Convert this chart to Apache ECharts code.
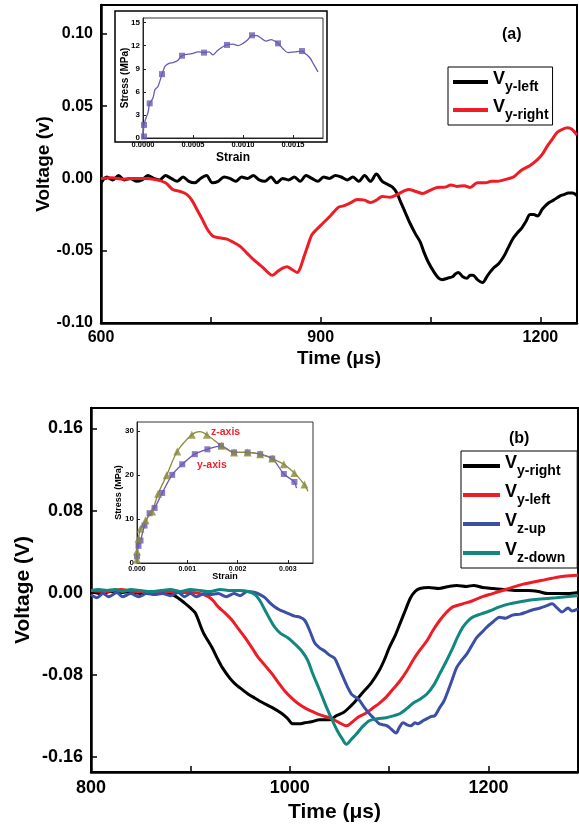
<!DOCTYPE html>
<html><head><meta charset="utf-8">
<script src="https://cdn.jsdelivr.net/npm/echarts@6/dist/echarts.min.js"></script>
<style>html,body{margin:0;padding:0;background:#fff}#c{width:579px;height:826px}</style>
</head><body><div id="c"></div>
<script>
// ---------- Panel (a) data: [time µs, voltage V] ----------
const aLeft = [[600,-0.003],[608,0.001],[616,-0.001],[624,0.002],[632,-0.001],[640,0.000],[648,-0.002],[656,-0.001],[664,0.002],[672,0.000],[680,-0.001],[688,0.002],[696,0.000],[704,-0.002],[712,0.001],[720,-0.002],[728,-0.003],[736,0.000],[744,0.002],[752,-0.003],[760,-0.002],[768,0.001],[776,0.000],[784,-0.002],[792,0.001],[800,0.000],[808,0.002],[816,-0.001],[824,-0.002],[832,0.001],[840,-0.003],[848,0.000],[856,-0.001],[864,0.001],[872,-0.002],[880,0.002],[888,0.000],[896,-0.002],[904,0.001],[912,0.000],[920,0.002],[928,0.001],[936,-0.001],[944,0.001],[952,-0.002],[960,0.002],[968,-0.002],[976,0.003],[984,-0.002],[991,-0.004],[998,-0.006],[1004,-0.010],[1009,-0.016],[1015,-0.023],[1022,-0.031],[1029,-0.038],[1036,-0.044],[1041,-0.051],[1047,-0.058],[1055,-0.065],[1061,-0.069],[1066,-0.070],[1073,-0.069],[1080,-0.068],[1084,-0.066],[1088,-0.065],[1094,-0.068],[1100,-0.069],[1104,-0.067],[1108,-0.067],[1114,-0.070],[1121,-0.072],[1128,-0.067],[1136,-0.062],[1143,-0.059],[1150,-0.054],[1156,-0.048],[1162,-0.042],[1168,-0.038],[1175,-0.034],[1180,-0.030],[1186,-0.025],[1191,-0.025],[1196,-0.026],[1203,-0.021],[1211,-0.017],[1218,-0.015],[1227,-0.012],[1233,-0.011],[1238,-0.010],[1244,-0.010],[1250,-0.012]];
const aRight = [[600,0],[615,0.0005],[630,-0.0005],[645,0],[660,0],[676,-0.001],[688,-0.003],[698,-0.0076],[708,-0.009],[717,-0.011],[724,-0.015],[731,-0.0215],[738,-0.028],[745,-0.035],[753,-0.040],[762,-0.041],[772,-0.042],[780,-0.044],[790,-0.047],[800,-0.052],[808,-0.056],[815,-0.059],[822,-0.062],[828,-0.065],[834,-0.067],[842,-0.064],[848,-0.062],[854,-0.061],[861,-0.063],[868,-0.065],[872,-0.062],[876,-0.056],[882,-0.047],[888,-0.039],[895,-0.035],[903,-0.031],[913,-0.026],[924,-0.020],[931,-0.019],[940,-0.017],[950,-0.0146],[960,-0.015],[968,-0.0167],[976,-0.015],[984,-0.0125],[995,-0.013],[1005,-0.011],[1020,-0.0076],[1030,-0.009],[1039,-0.0104],[1050,-0.008],[1059,-0.0063],[1070,-0.006],[1078,-0.0045],[1086,-0.0055],[1096,-0.005],[1104,-0.0063],[1114,-0.003],[1125,-0.003],[1133,-0.002],[1141,-0.002],[1150,-0.001],[1162,0.0007],[1168,0.003],[1175,0.006],[1186,0.009],[1196,0.013],[1203,0.017],[1209,0.022],[1216,0.027],[1223,0.032],[1230,0.034],[1237,0.035],[1243,0.034],[1250,0.030]];

// ---------- Panel (b) data ----------
const bRight = [[800,0.001],[810,-0.001],[820,0.001],[830,0],[840,0.001],[850,-0.001],[860,0.001],[870,0],[878,-0.001],[884,-0.003],[894,-0.010],[900,-0.015],[905,-0.020],[913,-0.039],[922,-0.054],[927,-0.064],[932,-0.073],[940,-0.084],[945,-0.089],[950,-0.093],[958,-0.099],[965,-0.103],[972,-0.107],[982,-0.112],[992,-0.118],[998,-0.123],[1003,-0.128],[1010,-0.128],[1015,-0.127],[1022,-0.126],[1030,-0.124],[1040,-0.124],[1047,-0.120],[1054,-0.117],[1060,-0.112],[1066,-0.106],[1073,-0.098],[1082,-0.088],[1090,-0.076],[1095,-0.066],[1100,-0.054],[1106,-0.042],[1111,-0.030],[1116,-0.018],[1121,-0.006],[1126,0.001],[1131,0.004],[1140,0.005],[1150,0.004],[1160,0.006],[1168,0.007],[1178,0.006],[1185,0.007],[1194,0.005],[1205,0.004],[1215,0.003],[1228,0.002],[1240,0.002],[1250,0.001],[1260,-0.001],[1271,-0.001],[1280,-0.001],[1290,0.000]];
const bLeft = [[800,0.002],[815,0.001],[830,0.003],[845,0.001],[860,0.001],[875,0.001],[890,0],[900,0],[910,-0.001],[918,-0.004],[923,-0.008],[928,-0.014],[935,-0.020],[942,-0.027],[948,-0.035],[955,-0.044],[962,-0.054],[968,-0.063],[975,-0.071],[982,-0.079],[988,-0.087],[995,-0.096],[1002,-0.103],[1008,-0.108],[1016,-0.113],[1025,-0.117],[1033,-0.120],[1042,-0.123],[1050,-0.127],[1057,-0.130],[1062,-0.127],[1068,-0.122],[1076,-0.118],[1083,-0.113],[1090,-0.108],[1097,-0.102],[1104,-0.094],[1111,-0.086],[1118,-0.076],[1124,-0.066],[1131,-0.056],[1138,-0.047],[1144,-0.037],[1151,-0.027],[1158,-0.019],[1164,-0.014],[1174,-0.011],[1184,-0.008],[1194,-0.004],[1204,-0.001],[1214,0.002],[1224,0.005],[1234,0.008],[1244,0.010],[1254,0.012],[1264,0.014],[1276,0.016],[1290,0.017]];
const bUp = [[800,-0.002],[806,-0.005],[812,-0.001],[818,-0.004],[826,0.000],[832,-0.004],[840,-0.001],[848,-0.004],[856,-0.001],[864,-0.002],[872,-0.001],[880,-0.003],[888,0.000],[894,-0.004],[900,-0.001],[906,-0.004],[914,-0.001],[920,-0.002],[928,-0.001],[936,-0.004],[944,-0.001],[950,-0.003],[957,0.001],[965,0.000],[970,-0.002],[975,-0.005],[980,-0.010],[985,-0.014],[990,-0.017],[995,-0.019],[1000,-0.021],[1005,-0.023],[1010,-0.024],[1015,-0.027],[1020,-0.037],[1025,-0.049],[1030,-0.054],[1035,-0.057],[1040,-0.061],[1045,-0.064],[1049,-0.072],[1053,-0.081],[1058,-0.092],[1062,-0.099],[1066,-0.102],[1070,-0.105],[1075,-0.112],[1080,-0.118],[1085,-0.123],[1090,-0.128],[1094,-0.129],[1098,-0.130],[1103,-0.134],[1107,-0.137],[1110,-0.132],[1114,-0.127],[1118,-0.129],[1122,-0.130],[1126,-0.127],[1129,-0.128],[1134,-0.125],[1138,-0.123],[1142,-0.121],[1146,-0.120],[1151,-0.112],[1155,-0.106],[1158,-0.099],[1163,-0.086],[1168,-0.073],[1173,-0.066],[1178,-0.060],[1183,-0.052],[1188,-0.044],[1193,-0.039],[1198,-0.034],[1204,-0.029],[1211,-0.024],[1217,-0.025],[1224,-0.022],[1232,-0.021],[1238,-0.019],[1244,-0.017],[1252,-0.015],[1258,-0.013],[1264,-0.011],[1269,-0.015],[1274,-0.019],[1280,-0.015],[1284,-0.018],[1290,-0.016]];
const bDown = [[800,0.002],[808,0.003],[816,0.002],[824,0.003],[832,0.001],[840,0.003],[850,0.002],[860,0.001],[870,0.002],[880,0.003],[890,0.001],[900,0.003],[910,0.002],[920,0.001],[930,0.003],[940,0.002],[950,0.002],[958,0.001],[965,-0.002],[970,-0.008],[975,-0.017],[980,-0.026],[985,-0.034],[991,-0.040],[998,-0.044],[1005,-0.050],[1012,-0.057],[1018,-0.066],[1023,-0.079],[1030,-0.095],[1037,-0.112],[1043,-0.125],[1048,-0.135],[1053,-0.143],[1057,-0.148],[1062,-0.143],[1067,-0.138],[1073,-0.131],[1080,-0.125],[1088,-0.123],[1097,-0.122],[1105,-0.120],[1111,-0.118],[1118,-0.113],[1124,-0.108],[1131,-0.104],[1138,-0.099],[1145,-0.090],[1151,-0.079],[1158,-0.066],[1164,-0.054],[1169,-0.043],[1174,-0.034],[1179,-0.028],[1184,-0.024],[1192,-0.021],[1201,-0.018],[1211,-0.014],[1221,-0.011],[1232,-0.009],[1244,-0.007],[1256,-0.006],[1268,-0.005],[1278,-0.004],[1290,-0.003]];

// ---------- Inset (a): strain, stress MPa ----------
const insetALine = [[0,0],[0.00001,1.7],[0.00003,2.6],[0.00005,3.3],[0.000067,4.5],[0.0001,5.2],[0.00012,6.3],[0.00015,6.7],[0.00019,8.3],[0.00022,9.3],[0.00026,9.7],[0.0003,9.8],[0.00034,10.0],[0.00039,10.7],[0.00045,10.9],[0.0005,11.0],[0.00055,11.2],[0.00061,11.1],[0.00066,11.2],[0.0007,10.8],[0.00074,11.3],[0.00079,11.8],[0.00084,12.1],[0.0009,12.2],[0.00095,12.0],[0.001,12.3],[0.00105,12.8],[0.00109,13.35],[0.00114,13.3],[0.00118,13.0],[0.00123,12.6],[0.00128,12.8],[0.00135,12.3],[0.0014,11.6],[0.00145,11.1],[0.00152,11.2],[0.00159,11.3],[0.00163,10.9],[0.00167,10.4],[0.00171,9.5],[0.00175,8.6]];
const insetAMarks = [[0.00001,0.2],[0.00001,1.7],[0.000067,4.5],[0.00019,8.3],[0.00039,10.7],[0.00061,11.1],[0.00084,12.1],[0.00109,13.35],[0.00135,12.3],[0.00159,11.3]];

// ---------- Inset (b) ----------
const insetBYMarks = [[0,1.5],[0.00003,3.9],[0.00007,5.1],[0.00015,8.5],[0.00025,11.3],[0.00035,12.5],[0.0005,15.9],[0.0007,20.0],[0.0009,22.4],[0.00115,24.7],[0.0014,25.8],[0.00167,26.6],[0.00193,25.1],[0.0022,25.1],[0.00245,24.7],[0.00269,23.7],[0.00292,20.2],[0.00313,18.4]];
const insetBYLine = [[0,0]].concat(insetBYMarks).concat([[0.00317,17.0]]);
const insetBZMarks = [[0,0.75],[0,2.6],[0.00003,5.5],[0.00007,7.8],[0.00017,9.7],[0.0003,11.7],[0.00042,15.7],[0.00059,19.9],[0.0008,25.3],[0.00109,29.1],[0.00139,29.1],[0.00168,26.6],[0.00193,25.1],[0.0022,25.1],[0.00245,24.7],[0.00269,23.7],[0.00292,22.4],[0.00313,20.4],[0.00333,17.8]];
const insetBZLine = [[0,0]].concat(insetBZMarks.slice(0,10)).concat([[0.00125,29.8]]).concat(insetBZMarks.slice(10)).concat([[0.0034,16.3]]);

const yTicksA = [-0.10,-0.05,0,0.05,0.10];
const yTicksB = [-0.16,-0.08,0,0.08,0.16];
const xTicksA = [600,900,1200];
const xTicksB = [800,1000,1200];

const FONT = 'Liberation Sans, Arial, sans-serif';
const subMap = {'a:y-left':'y-left','a:y-right':'y-right','b:y-right':'y-right','b:y-left':'y-left','b:z-up':'z-up','b:z-down':'z-down'};

const chart = echarts.init(document.getElementById('c'), null, {renderer:'canvas'});

function mainX(gridIndex, min, max, ticks, minor, fs, nameGap){
  return {gridIndex, type:'value', min, max,
    name:'Time (\u03bcs)', nameLocation:'middle', nameGap, nameMoveOverlap:false,
    nameTextStyle:{fontFamily:FONT, fontWeight:'bold', fontSize:fs+3, color:'#000'},
    axisLine:{show:true, onZero:false, lineStyle:{color:'#000', width:2.5}},
    axisTick:{show:true, inside:true, length:6, customValues:ticks.concat(minor), lineStyle:{color:'#000', width:1.5}},
    axisLabel:{customValues:ticks, margin:7, fontFamily:FONT, fontWeight:'bold', fontSize:fs, color:'#000',
      formatter:v=>String(v)},
    splitLine:{show:false}};
}
function mainY(gridIndex, min, max, ticks, fs, nameGap, nm){
  return {gridIndex, type:'value', min, max,
    name:nm, nameLocation:'middle', nameRotate:90, nameGap, nameMoveOverlap:false,
    nameTextStyle:{fontFamily:FONT, fontWeight:'bold', fontSize:fs+3, color:'#000'},
    axisLine:{show:true, onZero:false, lineStyle:{color:'#000', width:2.5}},
    axisTick:{show:true, inside:true, length:6, customValues:ticks, lineStyle:{color:'#000', width:1.5}},
    axisLabel:{customValues:ticks, margin:8, fontFamily:FONT, fontWeight:'bold', fontSize:fs, color:'#000',
      formatter:v=>v.toFixed(2)},
    splitLine:{show:false}};
}
function insetX(gridIndex, max, ticks, dec, fs, nfs, gap){
  return {gridIndex, type:'value', min:0, max,
    name:'Strain', nameLocation:'middle', nameGap:gap, nameMoveOverlap:false,
    nameTextStyle:{fontFamily:FONT, fontWeight:'bold', fontSize:nfs, color:'#000'},
    axisLine:{show:true, onZero:false, lineStyle:{color:'#222', width:1}},
    axisTick:{show:true, inside:true, length:3, customValues:ticks, lineStyle:{color:'#222'}},
    axisLabel:{customValues:ticks, margin:3, fontFamily:FONT, fontWeight:'bold', fontSize:fs, color:'#000',
      formatter:v=>v.toFixed(dec)},
    splitLine:{show:false}};
}
function insetY(gridIndex, max, ticks, fs, nfs, gap){
  return {gridIndex, type:'value', min:0, max,
    name:'Stress (MPa)', nameLocation:'middle', nameRotate:90, nameGap:gap, nameMoveOverlap:false,
    nameTextStyle:{fontFamily:FONT, fontWeight:'bold', fontSize:nfs, color:'#000'},
    axisLine:{show:true, onZero:false, lineStyle:{color:'#222', width:1}},
    axisTick:{show:true, inside:true, length:3, customValues:ticks, lineStyle:{color:'#222'}},
    axisLabel:{customValues:ticks, margin:3, fontFamily:FONT, fontWeight:'bold', fontSize:fs, color:'#000'},
    splitLine:{show:false}};
}
function mainLine(name, data, color, xi, yi){
  return {name, type:'line', xAxisIndex:xi, yAxisIndex:yi, data, showSymbol:false, symbol:'none',
    smooth:0.3, lineStyle:{color, width:3}, itemStyle:{color}, z:3, silent:true, animation:false};
}
const legendRich = {
  v:{fontFamily:FONT, fontWeight:'bold', fontSize:18, color:'#000', lineHeight:24, verticalAlign:'top'},
  s:{fontFamily:FONT, fontWeight:'bold', fontSize:14, color:'#000', lineHeight:24, verticalAlign:'bottom', padding:[8,0,0,0]}
};
const gridBase = {show:true, outerBoundsMode:'none', containLabel:false};
const option = {
  animation:false,
  backgroundColor:'#fff',
  title:[
    {text:'(a)', left:497, top:22, textStyle:{fontFamily:FONT, fontWeight:'bold', fontSize:16, color:'#000'}},
    {text:'(b)', left:504, top:426, textStyle:{fontFamily:FONT, fontWeight:'bold', fontSize:16, color:'#000'}}
  ],
  legend:[
    {data:['a:y-left','a:y-right'], orient:'vertical', left:448, top:67, itemWidth:35, itemHeight:4, itemGap:4,
      icon:'rect', borderColor:'#000', borderWidth:1, padding:[3,4,3,5], backgroundColor:'#fff',
      formatter:n=>'{v|V}{s|'+subMap[n]+'}', textStyle:{rich:legendRich}},
    {data:['b:y-right','b:y-left','b:z-up','b:z-down'], orient:'vertical', left:461, top:451, itemWidth:37, itemHeight:4, itemGap:5,
      icon:'rect', borderColor:'#000', borderWidth:1, padding:[3,12,3,2], backgroundColor:'#fff',
      formatter:n=>'{v|V}{s|'+subMap[n]+'}', textStyle:{rich:legendRich}}
  ],
  grid:[
    Object.assign({left:101, top:5, width:476, height:318, borderColor:'#000', borderWidth:2, backgroundColor:'transparent'}, gridBase),
    Object.assign({left:91, top:408, width:487, height:364, borderColor:'#000', borderWidth:2, backgroundColor:'transparent'}, gridBase),
    Object.assign({left:143, top:18, width:180, height:120, borderColor:'#333', borderWidth:1, backgroundColor:'#fff'}, gridBase),
    Object.assign({left:137, top:422, width:176, height:141, borderColor:'#333', borderWidth:1, backgroundColor:'#fff'}, gridBase)
  ],
  xAxis:[
    mainX(0, 600, 1250, xTicksA, [750,1050], 16, 26),
    mainX(1, 800, 1290, xTicksB, [900,1100], 18, 30),
    insetX(2, 0.0018, [0,0.0005,0.001,0.0015], 4, 7.5, 12, 14),
    insetX(3, 0.0035, [0,0.001,0.002,0.003], 3, 7, 9, 9)
  ],
  yAxis:[
    mainY(0, -0.10, 0.12, yTicksA, 16, 48, 'Voltage (v)'),
    mainY(1, -0.175, 0.18, yTicksB, 18, 57, 'Voltage (V)'),
    insetY(2, 15.6, [0,3,6,9,12,15], 8, 10, 13),
    insetY(3, 32, [0,10,20,30], 8, 9, 14)
  ],
  graphic:[
    {type:'rect', shape:{x:115, y:11, width:212, height:131}, style:{fill:'none', stroke:'#000', lineWidth:1.5}, z:1},
    {type:'text', left:211, top:427, style:{text:'z-axis', fill:'#e8262d', font:'bold 10.5px Liberation Sans, Arial'}, z:10},
    {type:'text', left:197, top:460, style:{text:'y-axis', fill:'#e8262d', font:'bold 10.5px Liberation Sans, Arial'}, z:10}
  ],
  series:[
    mainLine('a:y-left', aLeft, '#000000', 0, 0),
    mainLine('a:y-right', aRight, '#ee1c25', 0, 0),
    mainLine('b:y-right', bRight, '#000000', 1, 1),
    mainLine('b:y-left', bLeft, '#ee1c25', 1, 1),
    mainLine('b:z-up', bUp, '#3c4fa6', 1, 1),
    mainLine('b:z-down', bDown, '#10887f', 1, 1),
    {type:'line', xAxisIndex:2, yAxisIndex:2, data:insetALine, symbol:'none', smooth:0.3, lineStyle:{color:'#6a5ab4', width:1.3}, z:5, silent:true},
    {type:'scatter', xAxisIndex:2, yAxisIndex:2, data:insetAMarks, symbol:'rect', symbolSize:6, itemStyle:{color:'#6a5ab4'}, z:6, silent:true},
    {type:'line', xAxisIndex:3, yAxisIndex:3, data:insetBYLine, symbol:'none', smooth:0.3, lineStyle:{color:'#6a5ab4', width:1.3}, z:5, silent:true},
    {type:'scatter', xAxisIndex:3, yAxisIndex:3, data:insetBYMarks, symbol:'rect', symbolSize:6, itemStyle:{color:'#6a5ab4'}, z:6, silent:true},
    {type:'line', xAxisIndex:3, yAxisIndex:3, data:insetBZLine, symbol:'none', smooth:0.3, lineStyle:{color:'#8a8a3c', width:1.3}, z:5, silent:true},
    {type:'scatter', xAxisIndex:3, yAxisIndex:3, data:insetBZMarks, symbol:'triangle', symbolSize:8, itemStyle:{color:'#8a8a3c'}, z:6, silent:true}
  ]
};
chart.setOption(option);
</script></body></html>
